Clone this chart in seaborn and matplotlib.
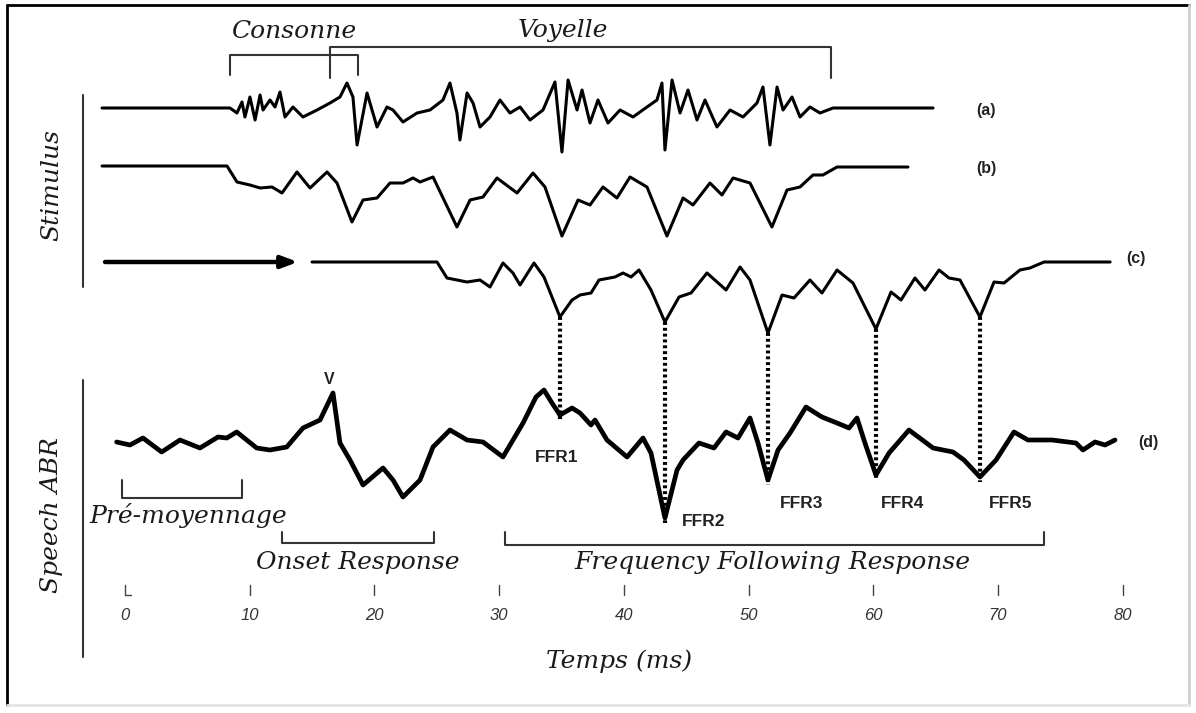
import numpy as np
import pandas as pd
import matplotlib
matplotlib.use("Agg")
import matplotlib.pyplot as plt
import seaborn as sns

# ---------------- waveforms: time (ms) and amplitude (a.u.) ----------------
# (a) speech stimulus waveform /da/
t_a = [-1.84, 8.42, 8.98, 9.38, 9.62, 10.02, 10.43, 10.83, 11.07, 11.63, 12.03, 12.43,
       12.83, 13.47, 14.27, 15.40, 16.44, 17.24, 17.80, 18.28, 18.61, 19.41, 20.21,
       21.01, 21.49, 22.29, 23.42, 24.46, 25.50, 26.06, 26.62, 26.86, 27.43, 27.91,
       28.47, 29.27, 30.07, 30.87, 31.68, 32.48, 33.52, 34.48, 35.04, 35.53, 36.25,
       36.65, 37.29, 37.93, 38.73, 39.70, 40.74, 41.86, 42.66, 43.06, 43.30, 43.87,
       44.51, 45.15, 45.87, 46.51, 47.47, 48.52, 49.56, 50.68, 51.16, 51.72, 52.29,
       52.77, 53.49, 54.13, 54.93, 55.73, 56.78, 64.80]
amp_a = [0.0, 0.0, -0.5, 0.6, -0.9, 1.1, -1.2, 1.3, -0.2, 0.8, 0.1, 1.6,
         -0.9, 0.1, -0.9, -0.2, 0.5, 1.1, 2.5, 1.1, -3.7, 1.5, -1.9,
         0.1, -0.2, -1.4, -0.5, -0.2, 0.8, 2.5, -0.5, -3.2, 1.5, 0.5,
         -1.9, -0.9, 0.8, -0.5, 0.1, -1.2, -0.2, 2.6, -4.4, 2.8, -0.2,
         1.8, -1.5, 0.8, -1.5, -0.2, -0.9, 0.1, 0.8, 2.5, -4.2, 2.8,
         -0.5, 1.8, -1.2, 0.8, -1.9, -0.2, -0.9, 0.5, 2.1, -3.7, 2.1,
         -0.2, 1.1, -0.9, 0.1, -0.5, 0.0, 0.0]

# (b) rectified / smoothed stimulus envelope
t_b = [-1.84, 8.18, 8.98, 10.02, 10.83, 11.79, 12.59, 13.79, 14.84, 16.20, 17.00, 18.20,
       19.09, 20.21, 21.25, 22.29, 23.10, 23.66, 24.70, 26.62, 27.67, 28.71, 29.83,
       31.44, 32.72, 33.68, 35.04, 36.33, 37.29, 38.33, 39.45, 40.50, 41.86, 43.46,
       44.75, 45.55, 46.91, 47.87, 48.76, 50.12, 51.88, 53.09, 54.13, 55.17, 55.97,
       57.10, 62.79]
amp_b = [0.0, 0.0, -1.6, -1.9, -2.2, -2.1, -2.7, -0.6, -2.2, -0.6, -1.7, -5.6,
         -3.4, -3.2, -1.7, -1.7, -1.2, -1.6, -1.1, -6.1, -3.4, -3.1, -1.2,
         -2.7, -0.7, -2.1, -7.0, -3.4, -3.9, -2.1, -3.2, -1.1, -2.1, -7.0,
         -3.2, -3.9, -1.7, -2.9, -1.2, -1.7, -6.1, -2.4, -2.1, -0.9, -0.9,
         -0.1, -0.1]

# (c) envelope shifted by the neural transmission delay
t_c = [15.00, 25.02, 25.82, 27.43, 28.47, 29.27, 30.31, 31.11, 31.68, 32.80, 33.60, 34.88,
       35.85, 36.49, 37.37, 38.01, 39.29, 39.94, 40.58, 41.22, 42.18, 43.30, 44.43,
       45.39, 46.67, 48.20, 49.32, 50.12, 51.56, 52.69, 53.65, 54.93, 55.89, 57.10,
       58.38, 60.22, 61.43, 62.23, 63.35, 64.15, 65.28, 66.08, 66.96, 68.56, 69.69,
       70.49, 71.77, 72.57, 73.70, 79.00]
amp_c = [0.0, 0.0, -1.6, -2.0, -1.8, -2.5, -0.1, -1.1, -2.3, -0.1, -1.5, -5.5,
         -3.8, -3.3, -3.1, -1.8, -1.5, -1.1, -1.5, -0.8, -2.8, -6.0, -3.5,
         -3.1, -1.1, -2.8, -0.5, -1.8, -7.1, -3.3, -3.6, -1.8, -3.1, -0.8,
         -2.1, -6.7, -3.0, -3.8, -1.6, -2.8, -0.8, -1.6, -1.8, -5.5, -2.0,
         -2.1, -0.8, -0.6, 0.0, 0.0]
delay_arrow = [-1.6, 13.87]

# (d) speech-evoked auditory brainstem response
t_d = [-0.67, 0.40, 1.44, 2.94, 4.41, 6.01, 7.46, 8.16, 8.96, 10.56, 11.63, 12.97,
       14.27, 15.64, 16.68, 17.24, 18.04, 19.09, 20.69, 21.49, 22.29, 23.66, 24.70,
       26.06, 27.43, 28.71, 30.31, 31.92, 32.96, 33.60, 34.24, 34.88, 35.85, 36.49,
       37.37, 37.69, 38.65, 40.26, 41.54, 42.18, 43.30, 44.27, 44.75, 46.03, 47.23,
       48.20, 49.16, 50.12, 50.76, 51.56, 52.37, 53.33, 54.61, 55.89, 57.10, 58.06,
       58.70, 59.34, 60.22, 61.27, 62.87, 64.80, 66.40, 67.28, 68.56, 69.85, 71.29,
       72.41, 74.34, 76.26, 76.82, 77.79, 78.59, 79.39]
amp_d = [-0.2, -0.5, 0.2, -1.2, 0.0, -0.8, 0.3, 0.2, 0.8, -0.8, -1.0, -0.7,
         1.2, 2.0, 4.7, -0.3, -2.0, -4.5, -2.8, -4.0, -5.7, -4.0, -0.7,
         1.0, 0.0, -0.2, -1.7, 1.7, 4.3, 5.0, 3.7, 2.5, 3.2, 2.7,
         1.5, 2.0, 0.0, -1.7, 0.2, -1.3, -7.8, -3.0, -2.0, -0.3, -0.8,
         0.8, 0.2, 2.2, -0.3, -4.0, -1.0, 0.7, 3.3, 2.3, 1.7, 1.2,
         2.2, -0.3, -3.5, -1.3, 1.0, -0.8, -1.2, -2.0, -3.7, -2.0, 0.8,
         0.0, 0.0, -0.3, -1.0, -0.2, -0.5, 0.0]

ffr_names = ["FFR1", "FFR2", "FFR3", "FFR4", "FFR5"]
ffr_times = [34.88, 43.30, 51.56, 60.22, 68.56]
v_time = 16.68
tick_values = [0, 10, 20, 30, 40, 50, 60, 70, 80]

# segments (ms)
consonne = (8.4, 18.7)
voyelle = (16.4, 56.6)
pre_avg = (-0.25, 9.4)
onset = (12.6, 24.8)
ffr_span = (30.5, 73.7)

# ---------------- layout ----------------
W, H = 1196, 713
PX_MS = 12.47          # horizontal scale, pixels per ms
X0 = 125               # pixel column of t = 0
GAIN = 10              # pixels per amplitude unit
base = {"a": 108, "b": 166, "c": 262, "d": 440}


def col(px):
    return (px - X0) / PX_MS


sns.set_theme(style="white")
plt.rcParams["font.family"] = ["DejaVu Serif", "DejaVu Sans"]

fig = plt.figure(figsize=(W / 100, H / 100), dpi=100)
ax = fig.add_axes([0, 0, 1, 1])
ax.set_xlim(col(0), col(W))
ax.set_ylim(H, 0)
ax.axis("off")

traces = [("a", t_a, amp_a, 2.2), ("b", t_b, amp_b, 2.2), ("c", t_c, amp_c, 2.2),
          ("d", t_d, amp_d, 3.4)]
for key, tt, aa, lw in traces:
    df = pd.DataFrame({"t": tt, "y": base[key] - GAIN * np.asarray(aa)})
    sns.lineplot(data=df, x="t", y="y", ax=ax, color="black", lw=lw, sort=False,
                 estimator=None, legend=False)

# delay arrow before trace (c)
ax.annotate("", xy=(delay_arrow[1], base["c"]), xytext=(delay_arrow[0], base["c"]),
            arrowprops=dict(arrowstyle="-|>,head_length=0.8,head_width=0.3",
                            lw=3.2, color="black", shrinkA=0, shrinkB=0))

# dotted links between the envelope troughs and the FFR peaks
for tf in ffr_times:
    yc = base["c"] - GAIN * np.interp(tf, t_c, amp_c)
    yd = base["d"] - GAIN * np.interp(tf, t_d, amp_d)
    ax.plot([tf, tf], [yc, yd + 5], color="black", lw=3.0, ls=(0, (0.7, 0.7)),
            solid_capstyle="butt")

# trace labels
bold_sans = dict(family="Liberation Sans", weight="bold", color="#222222")
ax.text(col(986), 110, "(a)", ha="center", va="center", fontsize=11.5, **bold_sans)
ax.text(col(986), 168, "(b)", ha="center", va="center", fontsize=11.5, **bold_sans)
ax.text(col(1136), 259, "(c)", ha="center", va="center", fontsize=11.5, **bold_sans)
ax.text(col(1148), 442, "(d)", ha="center", va="center", fontsize=11.5, **bold_sans)
ax.text(v_time - 0.3, 380, "V", ha="center", va="center", fontsize=11.5, **bold_sans)

ffr_pos = [(557, 457), (704, 522), (802, 504), (903, 504), (1011, 503)]
for name, (px, py) in zip(ffr_names, ffr_pos):
    ax.text(col(px), py, name, ha="center", va="center", fontsize=12.5, **bold_sans)

# brackets
br = dict(color="#333333", lw=1.5)


def bracket(span, y, depth):
    x1, x2 = span
    ax.plot([x1, x1, x2, x2], [y + depth, y, y, y + depth], **br)


bracket(consonne, 55, 20)
bracket(voyelle, 47, 31)
bracket(pre_avg, 498, -18)
bracket(onset, 543, -11)
bracket(ffr_span, 545, -13)

serif_it = dict(family="DejaVu Serif", style="italic", color="#1a1a1a")
FS = 18
ax.text(np.mean(consonne), 32, "Consonne", ha="center", va="center", fontsize=FS, **serif_it)
ax.text(col(563), 30, "Voyelle", ha="center", va="center", fontsize=FS, **serif_it)
ax.text(col(188), 515, "Pré-moyennage", ha="center", va="center", fontsize=FS, **serif_it)
ax.text(col(358), 562, "Onset Response", ha="center", va="center", fontsize=FS, **serif_it)
ax.text(col(772), 563, "Frequency Following Response", ha="center", va="center",
        fontsize=FS, **serif_it)
ax.text(col(619), 661, "Temps (ms)", ha="center", va="center", fontsize=FS, **serif_it)

# time axis
for tv in tick_values:
    ax.plot([tv, tv], [585, 595], color="#444444", lw=1.0)
    ax.text(tv, 615, str(tv), ha="center", va="center", fontsize=12,
            family="Liberation Sans", style="italic", color="#333333")
ax.plot([0, 0.5], [595, 595], color="#444444", lw=1.0)

# group labels on the left
ax.plot([col(83), col(83)], [95, 287], color="#333333", lw=1.5)
ax.plot([col(83), col(83)], [380, 657], color="#333333", lw=1.5)
ax.text(col(52), 185, "Stimulus", rotation=90, ha="center", va="center", fontsize=FS,
        **serif_it)
ax.text(col(52), 515, "Speech ABR", rotation=90, ha="center", va="center", fontsize=FS,
        **serif_it)

# frame
ax.plot([col(7), col(7)], [5, 705], color="black", lw=2.0)
ax.plot([col(7), col(1189)], [5, 5], color="black", lw=2.0)
ax.plot([col(1189), col(1189)], [5, 705], color="#cfcfcf", lw=2.0)
ax.plot([col(7), col(1189)], [705, 705], color="#e4e4e4", lw=2.0)

fig.savefig("out.png", dpi=100, facecolor="white")
